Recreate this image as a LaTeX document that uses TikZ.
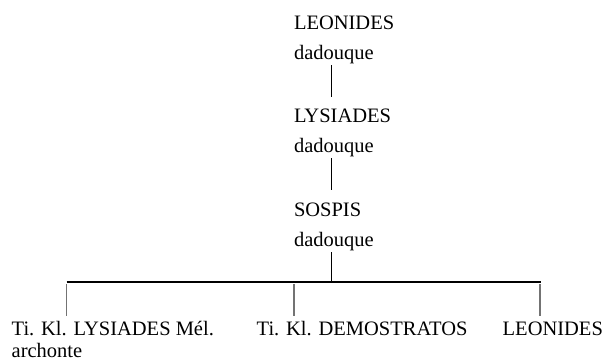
\documentclass[tikz,border=0pt]{standalone}
\usepackage{fontspec}
\setmainfont{Liberation Serif}
\tikzset{
  lbl/.style={anchor=base west, inner sep=0pt, outer sep=0pt, font=\fontsize{20.5}{25}\selectfont},
  vline/.style={draw=black, line width=0.9pt},
  bar/.style={draw=black, line width=1.8pt},
  drop/.style={draw=black!55, line width=1.1pt},
}
\begin{document}
\begin{tikzpicture}[x=1pt,y=-1pt]
\useasboundingbox (0,0) rectangle (607,362);
% top chain
\node[lbl] (n1a) at (294,29.5) {LEONIDES};
\node[lbl] (n1b) at (294,59.5) {dadouque};
\node[lbl] (n2a) at (294,122) {LYSIADES};
\node[lbl] (n2b) at (294,152) {dadouque};
\node[lbl] (n3a) at (294,216.5) {SOSPIS};
\node[lbl] (n3b) at (294,246.5) {dadouque};
% bottom
\node[lbl] (b1) at (11.7,335) {Ti. Kl. LYSIADES Mél.};
\node[lbl] (b1b) at (11.7,357) {archonte};
\node[lbl] (b2) at (256.7,335) {Ti. Kl. DEMOSTRATOS};
\node[lbl] (b3) at (502.7,335) {LEONIDES};
% connector coordinates
\coordinate (c1t) at (331.5,65);
\coordinate (c1b) at (331.5,97);
\coordinate (c2t) at (331.5,158);
\coordinate (c2b) at (331.5,190);
\coordinate (c3t) at (331.5,252);
\coordinate (c3b) at (331.5,282);
\coordinate (barL) at (66.5,282);
\coordinate (barR) at (540.5,282);
\coordinate (d1t) at (66.5,284);
\coordinate (d1b) at (66.5,316);
\coordinate (d2t) at (294,284);
\coordinate (d2b) at (294,316);
\coordinate (d3t) at (540,284);
\coordinate (d3b) at (540,316);
\draw[vline] (c1t) -- (c1b);
\draw[vline] (c2t) -- (c2b);
\draw[vline] (c3t) -- (c3b);
\draw[bar] (barL) -- (barR);
\draw[drop] (d1t) -- (d1b);
\draw[drop] (d2t) -- (d2b);
\draw[drop] (d3t) -- (d3b);
\end{tikzpicture}
\end{document}
